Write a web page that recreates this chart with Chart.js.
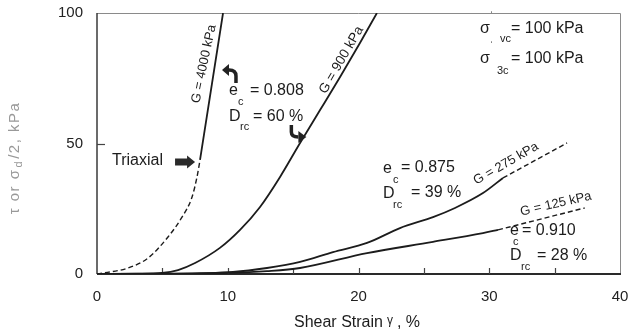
<!DOCTYPE html>
<html><head><meta charset="utf-8">
<script src="https://cdn.jsdelivr.net/npm/chart.js@4"></script>
<style>html,body{margin:0;padding:0;background:#fff}#wrap{width:630px;height:335px;position:relative}</style>
</head><body><div id="wrap"><canvas id="c" width="630" height="335"></canvas></div>
<script>
// ---- data (strain %, stress kPa) ----
const xTickValues = [0, 10, 20, 30, 40];
const yTickValues = [0, 50, 100];
const xMinorTicks = [5, 10, 15, 20, 25, 30, 35];
const yMinorTicks = [50];
const triaxialDashed = [[0,0],[2.37,2.3],[3.9,6.1],[5.43,14.2],[6.5,21.8],[7.27,29.5],[7.65,37.2],[7.88,43.7]];
const g4000 = [[7.88,43.7],[9.64,100]];
const g900 = [[0,0],[3,0.1],[4.97,0.4],[6.2,1.5],[7.5,4.2],[9.4,10],[10.94,16.9],[12.47,25.7],[14.0,37.2],[15.53,50.2],[17.06,62.8],[18.59,75.5],[20.11,88.5],[21.41,100]];
const g275 = [[0,0],[5,0.1],[10.4,0.8],[13,2.3],[15.53,4.6],[18.05,8.4],[20.65,11.9],[23.17,17.6],[25.7,21.8],[27.38,25.3],[29.52,31.0],[31.05,36.8]];
const g275Ext = [[31.05,36.8],[35.95,50.2]];
const g125 = [[0,0],[5,0.05],[10,0.4],[13,1.1],[15.53,2.3],[20.65,8.0],[25.7,12.3],[29.52,15.7],[30.67,16.9]];
const g125Ext = [[30.67,16.9],[37.3,25.3]];

const FONT = '"Liberation Sans", Arial, Helvetica, sans-serif';
const INK = '#1c1c1c';
const xy = arr => arr.map(p => ({x: p[0], y: p[1]}));

function ds(arr, dashed) {
  return {
    data: xy(arr), borderColor: INK, borderWidth: dashed ? 1.4 : 1.8,
    borderDash: dashed ? [5, 3] : [], pointRadius: 0, fill: false,
    cubicInterpolationMode: 'monotone'
  };
}

const annot = {
  id: 'annot',
  beforeDatasetsDraw(chart) {
    const {ctx, chartArea: a, scales: {x, y}} = chart;
    ctx.save();
    ctx.strokeStyle = '#8a8a8a'; ctx.lineWidth = 1;
    ctx.beginPath(); ctx.moveTo(a.left, a.top + 0.5); ctx.lineTo(a.right + 0.5, a.top + 0.5); ctx.lineTo(a.right + 0.5, a.bottom); ctx.stroke();
    ctx.strokeStyle = '#3a3a3a'; ctx.lineWidth = 1.5;
    ctx.beginPath(); ctx.moveTo(a.left, a.top); ctx.lineTo(a.left, a.bottom); ctx.stroke();
    ctx.strokeStyle = '#2a2a2a'; ctx.lineWidth = 2;
    ctx.beginPath(); ctx.moveTo(a.left, a.bottom); ctx.lineTo(a.right + 1, a.bottom); ctx.stroke();
    ctx.lineWidth = 1.2; ctx.strokeStyle = '#444';
    xMinorTicks.forEach(v => { const px = Math.round(x.getPixelForValue(v)) + 0.5; ctx.beginPath(); ctx.moveTo(px, a.bottom); ctx.lineTo(px, a.bottom - 6); ctx.stroke(); });
    yMinorTicks.forEach(v => { const py = Math.round(y.getPixelForValue(v)) + 0.5; ctx.beginPath(); ctx.moveTo(a.left, py); ctx.lineTo(a.left + 8, py); ctx.stroke(); });
    ctx.restore();
  },
  afterDraw(chart) {
    const {ctx, chartArea: a, scales: {x, y}} = chart;
    const P = (dx, dy) => [x.getPixelForValue(dx), y.getPixelForValue(dy)];
    ctx.save();
    ctx.textBaseline = 'middle';
    function txt(s, dx, dy, size, rot, color) {
      const [px, py] = P(dx, dy);
      ctx.font = size + 'px ' + FONT;
      ctx.fillStyle = color || INK;
      if (rot) {
        ctx.save(); ctx.translate(px, py); ctx.rotate(rot * Math.PI / 180);
        ctx.textAlign = 'center'; ctx.fillText(s, 0, 0); ctx.restore();
      } else { ctx.textAlign = 'left'; ctx.fillText(s, px, py); }
    }
    // stress state
    txt('σ', 29.29, 93.9, 16); txt('\u02C8', 30.05, 98.6, 10); txt('vc', 30.82, 90.0, 11); txt('= 100 kPa', 31.66, 93.9, 16);
    txt('σ', 29.29, 82.4, 16); txt('\u02C8', 30.05, 87.1, 10); txt('3c', 30.59, 77.8, 11); txt('= 100 kPa', 31.66, 82.4, 16);
    // e = 0.808 group
    txt('e', 10.10, 70.1, 16); txt('c', 10.78, 65.9, 11); txt('= 0.808', 11.70, 70.1, 16);
    txt('D', 10.10, 60.5, 16); txt('rc', 10.94, 56.3, 11); txt('= 60 %', 11.93, 60.5, 16);
    // e = 0.875 group
    txt('e', 21.87, 40.2, 16); txt('c', 22.64, 36.0, 11); txt('= 0.875', 23.25, 40.6, 16);
    txt('D', 21.87, 30.65, 16); txt('rc', 22.64, 26.4, 11); txt('= 39 %', 24.02, 31.0, 16);
    // e = 0.910 group
    txt('e', 31.59, 16.5, 16); txt('c', 31.82, 12.3, 11); txt('= 0.910', 32.5, 16.5, 16);
    txt('D', 31.59, 6.9, 16); txt('rc', 32.43, 2.7, 11); txt('= 28 %', 33.65, 6.9, 16);
    // G labels
    txt('G = 4000 kPa', 8.18, 80.5, 13, -78);
    txt('G = 900 kPa', 18.7, 82.0, 13.5, -60);
    txt('G = 275 kPa', 31.28, 42.3, 13, -30);
    txt('G = 125 kPa', 35.1, 26.8, 13, -13);
    // Triaxial + block arrow
    txt('Triaxial', 1.15, 43.3, 16);
    {
      const [x0, yy] = P(5.97, 42.9); const [x1] = P(7.5, 42.9);
      ctx.fillStyle = '#2a2a2a'; ctx.beginPath();
      ctx.moveTo(x0, yy - 3.5); ctx.lineTo(x1 - 8, yy - 3.5); ctx.lineTo(x1 - 8, yy - 6.5); ctx.lineTo(x1, yy);
      ctx.lineTo(x1 - 8, yy + 6.5); ctx.lineTo(x1 - 8, yy + 3.5); ctx.lineTo(x0, yy + 3.5); ctx.closePath(); ctx.fill();
    }
    // curved arrow up-left
    {
      const [ax, ay] = P(10.17, 76.6);
      ctx.strokeStyle = '#222'; ctx.fillStyle = '#222'; ctx.lineWidth = 3.5; ctx.lineCap = 'butt';
      ctx.beginPath(); ctx.moveTo(ax + 6, ay + 9); ctx.lineTo(ax + 6, ay + 2); ctx.quadraticCurveTo(ax + 6, ay - 4, ax - 1, ay - 4); ctx.stroke();
      ctx.beginPath(); ctx.moveTo(ax - 8, ay - 4); ctx.lineTo(ax - 1, ay - 10); ctx.lineTo(ax - 1, ay + 2); ctx.closePath(); ctx.fill();
    }
    // curved arrow down-right
    {
      const [ax, ay] = P(15.40, 54.0);
      ctx.beginPath(); ctx.moveTo(ax - 7, ay - 8); ctx.lineTo(ax - 7, ay - 1); ctx.quadraticCurveTo(ax - 7, ay + 4, ax, ay + 4); ctx.stroke();
      ctx.beginPath(); ctx.moveTo(ax + 8, ay + 4); ctx.lineTo(ax, ay - 2); ctx.lineTo(ax, ay + 10); ctx.closePath(); ctx.fill();
    }
    // axis titles
    ctx.fillStyle = INK; ctx.textAlign = 'left';
    const tx = a.left + 197, ty = a.bottom + 49;
    ctx.font = '16px ' + FONT; ctx.fillText('Shear Strain', tx, ty);
    let w = ctx.measureText('Shear Strain').width;
    ctx.font = '12px ' + FONT; ctx.fillText('γ', tx + w + 4, ty - 2);
    ctx.font = '16px ' + FONT; ctx.fillText(', %', tx + w + 14, ty);
    // y title rotated
    ctx.save(); ctx.translate(15, a.top + 145); ctx.rotate(-Math.PI / 2);
    ctx.fillStyle = '#999'; ctx.textAlign = 'left';
    ctx.letterSpacing = '1.5px';
    const p1 = 'τ or σ', p2 = '/2, kPa';
    ctx.font = '15px ' + FONT; const w1 = ctx.measureText(p1).width;
    ctx.font = '11px ' + FONT; const wd = ctx.measureText('d').width;
    ctx.font = '15px ' + FONT; const w2 = ctx.measureText(p2).width;
    const tot = w1 + wd + w2 + 2; let cx = -tot / 2;
    ctx.font = '15px ' + FONT; ctx.fillText(p1, cx, 0); cx += w1 + 1;
    ctx.font = '11px ' + FONT; ctx.fillText('d', cx, 4); cx += wd + 1;
    ctx.font = '15px ' + FONT; ctx.fillText(p2, cx, 0);
    ctx.restore();
    ctx.restore();
  }
};

new Chart(document.getElementById('c'), {
  type: 'line',
  data: { datasets: [
    ds(triaxialDashed, true), ds(g4000, false), ds(g900, false),
    ds(g275, false), ds(g275Ext, true), ds(g125, false), ds(g125Ext, true)
  ]},
  options: {
    responsive: false, animation: false,
    layout: { padding: { left: 0, right: 10, top: 13, bottom: 0 } },
    plugins: { legend: { display: false }, tooltip: { enabled: false } },
    scales: {
      x: {
        type: 'linear', min: 0, max: 40,
        afterBuildTicks: s => { s.ticks = xTickValues.map(v => ({ value: v })); },
        afterFit: s => { s.height = 61; s.paddingLeft = 0; s.paddingRight = 0; },
        grid: { display: false, drawTicks: false }, border: { display: false },
        ticks: { padding: 14, color: '#222', maxRotation: 0, font: { family: FONT, size: 15 } }
      },
      y: {
        type: 'linear', min: 0, max: 100,
        afterBuildTicks: s => { s.ticks = yTickValues.map(v => ({ value: v })); },
        afterFit: s => { s.width = 97; s.paddingTop = 0; s.paddingBottom = 0; },
        grid: { display: false, drawTicks: false }, border: { display: false },
        ticks: { padding: 14, color: '#222', font: { family: FONT, size: 15 } }
      }
    }
  },
  plugins: [annot]
});
</script>
</body></html>
